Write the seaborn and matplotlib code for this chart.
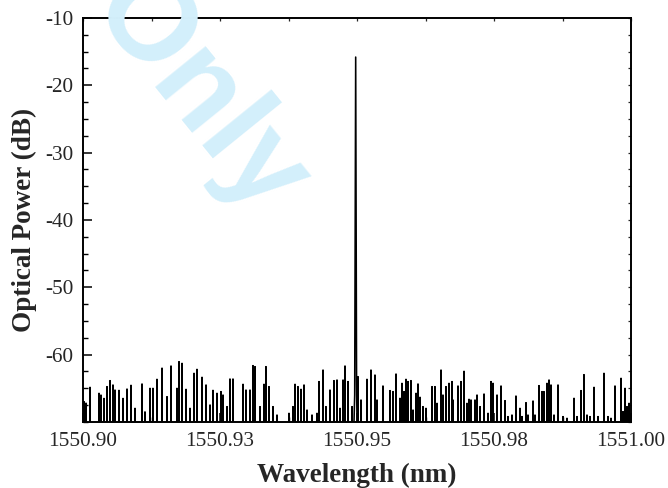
import numpy as np
import pandas as pd
import matplotlib
matplotlib.use("Agg")
import matplotlib.pyplot as plt
import seaborn as sns
from matplotlib.ticker import MultipleLocator, FixedLocator, FixedFormatter

# ---------------- data ----------------
base_wl = 1550.90
# noise spike positions (offset from 1550.90 nm) and their tops (dB)
noise_off = [0.00018, 0.00055, 0.00128, 0.00292, 0.00328, 0.00383, 0.00438, 0.00493,
             0.00547, 0.00584, 0.00657, 0.00730, 0.00803, 0.00876, 0.00949, 0.01077,
             0.01131, 0.01223, 0.01277, 0.01350, 0.01442, 0.01533, 0.01606, 0.01715,
             0.01752, 0.01807, 0.01880, 0.01953, 0.02026, 0.02080, 0.02172, 0.02245,
             0.02318, 0.02372, 0.02445, 0.02518, 0.02555, 0.02628, 0.02682, 0.02737,
             0.02920, 0.02974, 0.03047, 0.03102, 0.03139, 0.03230, 0.03303, 0.03339,
             0.03394, 0.03467, 0.03540, 0.03759, 0.03832, 0.03869, 0.03923, 0.03978,
             0.04033, 0.04088, 0.04179, 0.04270, 0.04307, 0.04380, 0.04434, 0.04507,
             0.04580, 0.04635, 0.04690, 0.04745, 0.04781, 0.04836, 0.04909,
             0.05018, 0.05073, 0.05182, 0.05255, 0.05328, 0.05365, 0.05474, 0.05602,
             0.05657, 0.05712, 0.05785, 0.05821, 0.05858, 0.05894, 0.05931, 0.05985,
             0.06022, 0.06077, 0.06113, 0.06150, 0.06204, 0.06259, 0.06369, 0.06423,
             0.06460, 0.06533, 0.06569, 0.06624, 0.06679, 0.06734, 0.06752, 0.06843,
             0.06898, 0.06953, 0.07007, 0.07044, 0.07080, 0.07153, 0.07190, 0.07245,
             0.07318, 0.07391, 0.07445, 0.07482, 0.07555, 0.07628, 0.07701, 0.07755,
             0.07828, 0.07901, 0.07974, 0.08011, 0.08084, 0.08120, 0.08212, 0.08248,
             0.08321, 0.08376, 0.08412, 0.08467, 0.08504, 0.08540, 0.08595, 0.08668,
             0.08759, 0.08832, 0.08960, 0.09015, 0.09088, 0.09142, 0.09197, 0.09252,
             0.09325, 0.09398, 0.09507, 0.09580, 0.09635, 0.09708, 0.09818, 0.09854,
             0.09891, 0.09927, 0.09964]
noise_db = [-66.98, -67.2, -64.85, -65.74, -66.0, -66.5, -64.75, -63.86,
            -64.5, -65.25, -65.3, -66.5, -65.1, -64.55, -67.97, -64.35,
            -68.5, -65.0, -65.0, -63.66, -62.0, -66.24, -61.68, -65.0,
            -61.04, -61.29, -65.15, -67.97, -62.77, -62.18, -63.36, -64.5,
            -67.47, -65.3, -65.74, -65.49, -65.99, -67.72, -63.61, -63.61,
            -64.4, -65.25, -65.25, -61.63, -61.78, -67.72, -64.4, -61.78,
            -64.75, -67.72, -68.96, -68.71, -67.72, -64.4, -64.75, -65.15,
            -64.5, -68.22, -68.96, -68.71, -64.0, -62.28, -67.72, -65.25,
            -63.86, -63.76, -67.97, -63.76, -61.68, -64.0, -67.72,
            -63.27, -66.73, -63.66, -62.28, -63.02, -66.73, -64.65, -65.34,
            -65.49, -62.87, -66.48, -64.26, -65.49, -63.66, -64.0, -63.86,
            -68.22, -65.74, -64.35, -66.33, -67.72, -67.97, -64.75, -64.75,
            -67.23, -62.28, -65.99, -64.75, -64.26, -64.0, -66.73, -64.65,
            -64.0, -62.47, -67.23, -66.63, -66.73, -66.73, -65.99, -67.72,
            -65.84, -68.71, -64.0, -64.26, -65.99, -64.65, -66.83, -69.2,
            -68.96, -66.14, -67.97, -69.2, -67.13, -68.96, -66.88, -68.96,
            -64.6, -65.49, -65.49, -64.26, -63.76, -64.5, -68.96, -64.5,
            -69.2, -69.45, -66.48, -69.2, -65.34, -62.97, -68.96, -69.2,
            -64.85, -69.2, -62.77, -69.2, -69.45, -64.65, -63.51, -68.46,
            -65.0, -67.72, -67.23]
# laser line
peak_off = [0.04958, 0.04976, 0.04992]
peak_db = [-66.0, -15.8, -64.0]
floor_db = -80.0          # noise floor lies below the displayed range
spike_halfwidth = 0.00004  # nm

# ---------------- build trace ----------------
xs, ys = [], []
spikes = sorted(list(zip(noise_off, noise_db)) + [(o, d) for o, d in zip(peak_off, peak_db)])
for off, db in spikes:
    if db > -50 or off in (peak_off[0], peak_off[2]):
        xs.append(base_wl + off); ys.append(db)
        continue
    xs += [base_wl + off - spike_halfwidth, base_wl + off, base_wl + off + spike_halfwidth]
    ys += [floor_db, db, floor_db]
df = pd.DataFrame({"Wavelength (nm)": xs, "Optical Power (dB)": ys})

# ---------------- plot ----------------
sns.set_theme(style="white")
plt.rcParams["font.family"] = ["Liberation Serif", "DejaVu Serif"]
plt.rcParams["axes.unicode_minus"] = False

fig = plt.figure(figsize=(6.68, 4.88), dpi=100)
ax = fig.add_axes([83 / 668, 1 - 422 / 488, (631 - 83) / 668, (422 - 18) / 488])
ax.set_facecolor("none")

# watermark
fig.text(198 / 668, 1 - 96 / 488, "Only", color="#d3effb", fontsize=88,
         fontweight="bold", family="Liberation Sans", rotation=-51,
         ha="center", va="center", rotation_mode="anchor", zorder=0)

sns.lineplot(data=df, x="Wavelength (nm)", y="Optical Power (dB)", ax=ax,
             color="black", lw=1.15, estimator=None, sort=False)

ax.set_xlim(1550.90, 1551.00)
ax.set_ylim(-70, -10)

xticks = [1550.90, 1550.925, 1550.95, 1550.975, 1551.00]
xlabels = ["1550.90", "1550.93", "1550.95", "1550.98", "1551.00"]
ax.xaxis.set_major_locator(FixedLocator(xticks))
ax.xaxis.set_major_formatter(FixedFormatter(xlabels))
ax.xaxis.set_minor_locator(MultipleLocator(0.0125))
ax.yaxis.set_major_locator(FixedLocator([-10, -20, -30, -40, -50, -60]))
ax.yaxis.set_minor_locator(MultipleLocator(2.5))

ax.tick_params(which="major", direction="in", length=6.5, width=1.1, color="black",
               labelsize=15.3, pad=7, bottom=True, left=True, top=False, right=False)
ax.tick_params(which="minor", direction="in", length=3.4, width=1.0, color="black",
               bottom=True, left=True, top=False, right=False)

for s in ax.spines.values():
    s.set_visible(True)
    s.set_color("black")
    s.set_linewidth(1.4)

# small inward ticks on top and right
secx = ax.secondary_xaxis("top")
secx.xaxis.set_major_locator(MultipleLocator(0.0125))
secx.tick_params(direction="in", length=2.5, width=0.9, labeltop=False)
secx.spines["top"].set_visible(False)
secy = ax.secondary_yaxis("right")
secy.yaxis.set_major_locator(MultipleLocator(2.5))
secy.tick_params(direction="in", length=2.5, width=0.9, labelright=False)
secy.spines["right"].set_visible(False)

ax.set_xlabel("Wavelength (nm)", fontsize=19.5, fontweight="bold", labelpad=9)
ax.set_ylabel("Optical Power (dB)", fontsize=19.5, fontweight="bold", labelpad=6)

fig.savefig("out.png", dpi=100)
